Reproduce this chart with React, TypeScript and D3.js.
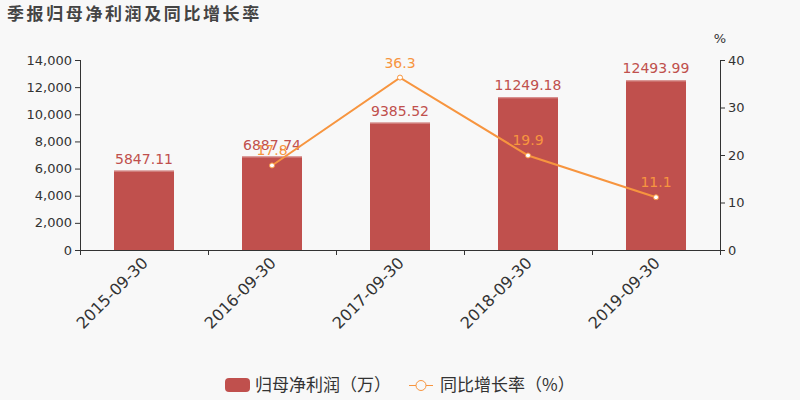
import React from "react";
import * as d3 from "d3";

const categories = ["2015-09-30", "2016-09-30", "2017-09-30", "2018-09-30", "2019-09-30"];
const profitValues = [5847.11, 6887.74, 9385.52, 11249.18, 12493.99];
const growthValues: (number | null)[] = [null, 17.8, 36.3, 19.9, 11.1];
const leftTicks = [0, 2000, 4000, 6000, 8000, 10000, 12000, 14000];
const rightTicks = [0, 10, 20, 30, 40];

const W = 800, H = 400;
const M = { left: 80, right: 720, top: 60, bottom: 250 };
const FONT = "'DejaVu Sans', 'Noto Sans CJK SC', sans-serif";
const BAR = "#c0504d";
const LINE = "#f7953f";

export default function App() {
  const x = d3.scaleBand<string>().domain(categories).range([M.left, M.right]);
  const yL = d3.scaleLinear().domain([0, 14000]).range([M.bottom, M.top]);
  const yR = d3.scaleLinear().domain([0, 40]).range([M.bottom, M.top]);
  const barW = 60;
  const fmt = d3.format(",");
  const pts = categories
    .map((c, i) => ({ c, v: growthValues[i] }))
    .filter((d) => d.v != null) as { c: string; v: number }[];
  const line = d3
    .line<{ c: string; v: number }>()
    .x((d) => x(d.c)! + x.bandwidth() / 2)
    .y((d) => yR(d.v));
  const ticksX = [...categories.map((c) => x(c)!), M.right];

  return (
    <svg width={W} height={H} style={{ display: "block", position: "absolute", left: 0, top: 0, background: "#f8f8f8" }} fontFamily={FONT}>
      <rect x={0} y={0} width={W} height={H} fill="#f8f8f8" />
      <text x={7} y={20} fontSize={17} fontWeight="bold" fill="#444" fontFamily="'Noto Sans CJK SC', sans-serif" letterSpacing={2.6}>
        季报归母净利润及同比增长率
      </text>

      {/* bars */}
      {categories.map((c, i) => {
        const cx = x(c)! + x.bandwidth() / 2;
        const top = yL(profitValues[i]);
        return (
          <g key={c}>
            <rect x={cx - barW / 2} y={top} width={barW} height={M.bottom - top} fill={BAR} />
            <line x1={cx - barW / 2} x2={cx + barW / 2} y1={top + 0.5} y2={top + 0.5} stroke="#d99694" strokeWidth={1} />
            <text x={cx} y={top - 7} textAnchor="middle" fontSize={14} fill={BAR}>
              {profitValues[i]}
            </text>
          </g>
        );
      })}

      {/* left axis */}
      <line x1={M.left + 0.5} x2={M.left + 0.5} y1={M.top} y2={M.bottom + 5} stroke="#333" />
      {leftTicks.map((t) => (
        <g key={t}>
          <line x1={M.left - 5} x2={M.left} y1={yL(t) + 0.5} y2={yL(t) + 0.5} stroke="#333" />
          <text x={M.left - 8} y={yL(t)} dy="0.35em" textAnchor="end" fontSize={13} fill="#333">
            {fmt(t)}
          </text>
        </g>
      ))}

      {/* right axis */}
      <line x1={M.right + 0.5} x2={M.right + 0.5} y1={M.top} y2={M.bottom + 5} stroke="#333" />
      {rightTicks.map((t) => (
        <g key={t}>
          <line x1={M.right} x2={M.right + 5} y1={yR(t) + 0.5} y2={yR(t) + 0.5} stroke="#333" />
          <text x={M.right + 8} y={yR(t)} dy="0.35em" textAnchor="start" fontSize={13} fill="#333">
            {t}
          </text>
        </g>
      ))}
      <text x={720} y={43} textAnchor="middle" fontSize={13} fill="#333">%</text>

      {/* bottom axis */}
      <line x1={M.left} x2={M.right} y1={M.bottom + 0.5} y2={M.bottom + 0.5} stroke="#333" />
      {ticksX.map((t, i) => (
        <line key={i} x1={t + 0.5} x2={t + 0.5} y1={M.bottom} y2={M.bottom + 5} stroke="#333" />
      ))}
      {categories.map((c) => {
        const cx = x(c)! + x.bandwidth() / 2;
        return (
          <text key={c} x={0} y={0} textAnchor="end" fontSize={16} fill="#333"
            transform={`translate(${cx + 5},${M.bottom + 14}) rotate(-45)`}>
            {c}
          </text>
        );
      })}

      {/* line */}
      <path d={line(pts)!} fill="none" stroke={LINE} strokeWidth={2} />
      {pts.map((d) => {
        const cx = x(d.c)! + x.bandwidth() / 2;
        return (
          <g key={d.c}>
            <circle cx={cx} cy={yR(d.v)} r={2.5} fill="#fff" stroke={LINE} strokeWidth={1} />
            <text x={cx} y={yR(d.v) - 10} textAnchor="middle" fontSize={14} fill={LINE}>
              {d.v}
            </text>
          </g>
        );
      })}

      {/* legend */}
      <rect x={225} y={378} width={25} height={14} rx={4} fill={BAR} />
      <text x={255} y={385} dy="0.35em" fontSize={17} fill="#333" fontFamily="'Noto Sans CJK SC', sans-serif">归母净利润（万）</text>
      <line x1={409} x2={433} y1={385.5} y2={385.5} stroke={LINE} strokeWidth={1} />
      <circle cx={421} cy={385.5} r={5} fill="#f8f8f8" stroke={LINE} strokeWidth={1} />
      <text x={440} y={385} dy="0.35em" fontSize={17} fill="#333" fontFamily="'Noto Sans CJK SC', sans-serif">同比增长率（%）</text>
    </svg>
  );
}
